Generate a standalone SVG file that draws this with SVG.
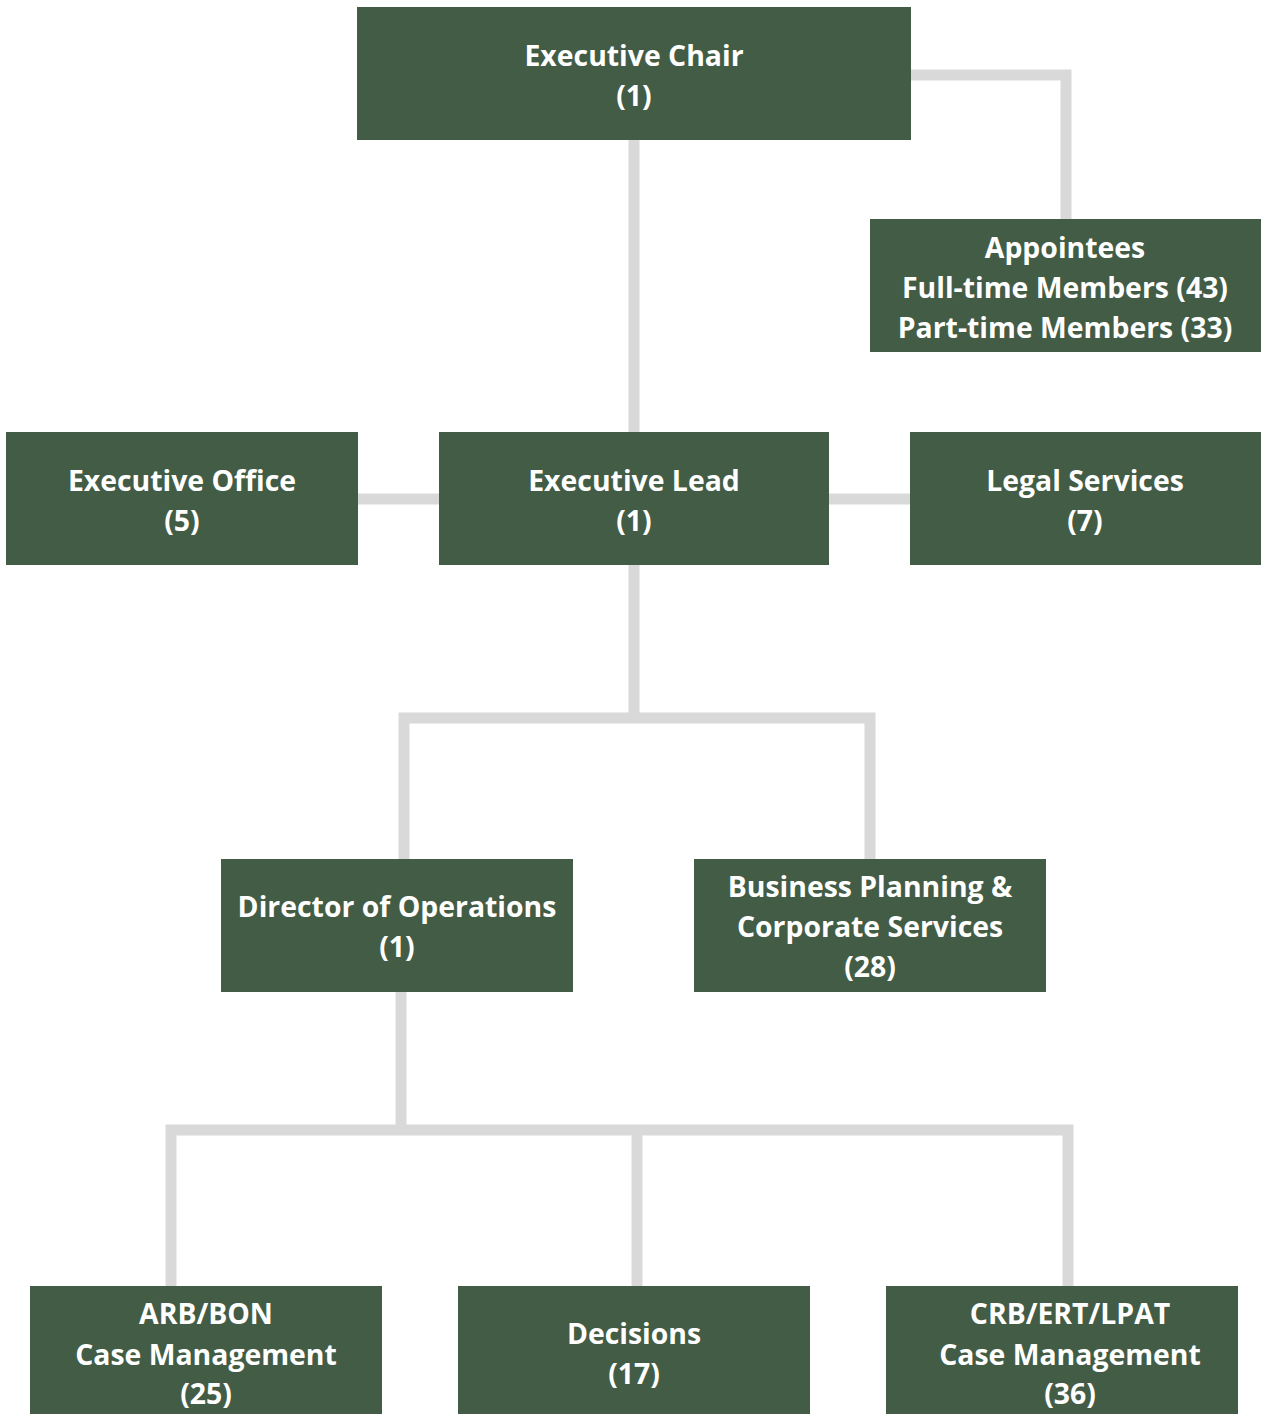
<svg xmlns="http://www.w3.org/2000/svg" width="1261" height="1414" viewBox="0 0 1261 1414">
<style>
.box{fill:#435c46}
.t{fill:#ffffff;font-family:"Open Sans","Noto Sans",sans-serif;font-weight:bold;font-size:28.4px;text-anchor:middle}
.c{stroke:#d9d9d9;stroke-width:11;fill:none;stroke-linecap:butt;stroke-linejoin:miter}
</style>
<rect width="1261" height="1414" fill="#ffffff"/>
<g id="connectors">
<path class="c" d="M911,75 H1066 V219"/>
<path class="c" d="M634,140 V432"/>
<path class="c" d="M358,499 H439"/>
<path class="c" d="M829,499 H910"/>
<path class="c" d="M634,565 V718"/>
<path class="c" d="M404,859 V718 H870 V859"/>
<path class="c" d="M401,992 V1130"/>
<path class="c" d="M171,1286 V1130 H1068 V1286"/>
<path class="c" d="M637,1130 V1286"/>
</g>
<g id="executive-chair"><rect class="box" x="357" y="7" width="554" height="133"/><text class="t" x="634" y="66">Executive Chair</text><text class="t" x="634" y="106">(1)</text></g>
<g id="appointees"><rect class="box" x="870" y="219" width="391" height="133"/><text class="t" x="1065" y="258">Appointees</text><text class="t" x="1065" y="298">Full-time Members (43)</text><text class="t" x="1065" y="338">Part-time Members (33)</text></g>
<g id="executive-office"><rect class="box" x="6" y="432" width="352" height="133"/><text class="t" x="182" y="491">Executive Office</text><text class="t" x="182" y="531">(5)</text></g>
<g id="executive-lead"><rect class="box" x="439" y="432" width="390" height="133"/><text class="t" x="634" y="491">Executive Lead</text><text class="t" x="634" y="531">(1)</text></g>
<g id="legal-services"><rect class="box" x="910" y="432" width="351" height="133"/><text class="t" x="1085" y="491">Legal Services</text><text class="t" x="1085" y="531">(7)</text></g>
<g id="director-of-operations"><rect class="box" x="221" y="859" width="352" height="133"/><text class="t" x="397" y="917">Director of Operations</text><text class="t" x="397" y="957">(1)</text></g>
<g id="business-planning"><rect class="box" x="694" y="859" width="352" height="133"/><text class="t" x="870" y="897">Business Planning &amp;</text><text class="t" x="870" y="937">Corporate Services</text><text class="t" x="870" y="977">(28)</text></g>
<g id="arb-bon"><rect class="box" x="30" y="1286" width="352" height="128"/><text class="t" x="206" y="1324">ARB/BON</text><text class="t" x="206" y="1365">Case Management</text><text class="t" x="206" y="1404">(25)</text></g>
<g id="decisions"><rect class="box" x="458" y="1286" width="352" height="128"/><text class="t" x="634" y="1344">Decisions</text><text class="t" x="634" y="1384">(17)</text></g>
<g id="crb-ert-lpat"><rect class="box" x="886" y="1286" width="352" height="128"/><text class="t" x="1070" y="1324">CRB/ERT/LPAT</text><text class="t" x="1070" y="1365">Case Management</text><text class="t" x="1070" y="1404">(36)</text></g>
</svg>
